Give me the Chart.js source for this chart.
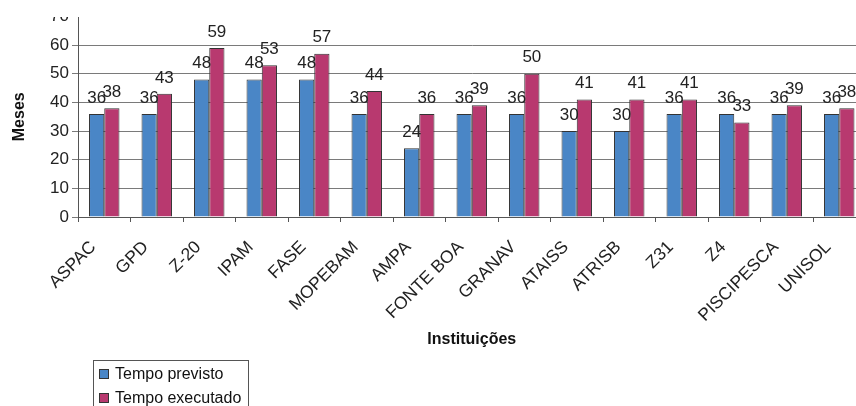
<!DOCTYPE html>
<html lang="pt">
<head>
<meta charset="UTF-8">
<title>Tempo previsto e executado por instituição</title>
<script src="https://cdn.jsdelivr.net/npm/chart.js"></script>
<style>
  html, body { margin: 0; padding: 0; background: #fff; overflow: hidden; }
  /* o gráfico original está cortado no topo (rótulo 70) e à direita */
  #wrap { position: absolute; left: 0; top: 17px; width: 856px; height: 389px; overflow: hidden; }
  #grafico { position: absolute; left: 0; top: -17px; }
</style>
</head>
<body>
<div id="wrap"><canvas id="grafico" width="880" height="406"></canvas></div>
<script>
const instituicoes = ['ASPAC', 'GPD', 'Z-20', 'IPAM', 'FASE', 'MOPEBAM', 'AMPA', 'FONTE BOA',
                      'GRANAV', 'ATAISS', 'ATRISB', 'Z31', 'Z4', 'PISCIPESCA', 'UNISOL'];
const tempoPrevisto  = [36, 36, 48, 48, 48, 36, 24, 36, 36, 30, 30, 36, 36, 36, 36];
const tempoExecutado = [38, 43, 59, 53, 57, 44, 36, 39, 50, 41, 41, 41, 33, 39, 38];
const yMin = 0, yMax = 70, yPasso = 10;

const fonte = 'Arial, "Liberation Sans", sans-serif';

// valores em cima das barras
const rotulosBarras = {
    id: 'rotulosBarras',
    afterDatasetsDraw(chart) {
        const ctx = chart.ctx;
        ctx.save();
        ctx.font = '17px ' + fonte;
        ctx.fillStyle = '#222';
        ctx.textAlign = 'center';
        ctx.textBaseline = 'middle';
        chart.data.datasets.forEach((ds, i) => {
            chart.getDatasetMeta(i).data.forEach((bar, j) => {
                ctx.fillText(ds.data[j], bar.x, bar.y - 16);
            });
        });
        ctx.restore();
    }
};

// legenda em caixa, vertical, embaixo à esquerda
const legendaCaixa = {
    id: 'legendaCaixa',
    afterDraw(chart) {
        const ctx = chart.ctx;
        ctx.save();
        ctx.strokeStyle = '#555';
        ctx.lineWidth = 1;
        ctx.strokeRect(93.5, 360.5, 155, 60);
        ctx.font = '16px ' + fonte;
        ctx.textBaseline = 'middle';
        chart.data.datasets.forEach((ds, i) => {
            const y = 374 + i * 24;
            ctx.fillStyle = ds.backgroundColor;
            ctx.fillRect(99.5, y - 4.5, 9, 9);
            ctx.strokeStyle = '#333';
            ctx.strokeRect(99.5, y - 4.5, 9, 9);
            ctx.fillStyle = '#111';
            ctx.fillText(ds.label, 115, y + 1);
        });
        ctx.restore();
    }
};

new Chart(document.getElementById('grafico'), {
    type: 'bar',
    data: {
        labels: instituicoes,
        datasets: [
            {
                label: 'Tempo previsto',
                data: tempoPrevisto,
                backgroundColor: '#4a86c6',
                borderColor: '#333',
                borderWidth: 1
            },
            {
                label: 'Tempo executado',
                data: tempoExecutado,
                backgroundColor: '#b8396f',
                borderColor: '#333',
                borderWidth: 1
            }
        ]
    },
    options: {
        responsive: false,
        animation: false,
        categoryPercentage: 0.58,
        barPercentage: 1.0,
        layout: { padding: { top: 16.5, right: 14.5, left: 0, bottom: 0 } },
        plugins: {
            legend: { display: false },
            tooltip: { enabled: false }
        },
        scales: {
            y: {
                min: yMin,
                max: yMax,
                ticks: {
                    stepSize: yPasso,
                    color: '#222',
                    font: { family: fonte, size: 17 },
                    padding: 3
                },
                grid: {
                    color: c => c.tick && c.tick.value === yMax ? '#dcdcdc' : '#7a7a7a',
                    tickLength: 6
                },
                border: { color: '#555' },
                title: {
                    display: true,
                    text: 'Meses',
                    color: '#111',
                    font: { family: fonte, size: 16, weight: 'bold' },
                    padding: { top: 10, bottom: 0 }
                },
                afterFit(s) { s.width = 78; }
            },
            x: {
                grid: {
                    drawOnChartArea: false,
                    offset: true,
                    tickLength: 5,
                    color: '#555'
                },
                border: { color: '#555' },
                ticks: {
                    autoSkip: false,
                    minRotation: 45,
                    maxRotation: 45,
                    labelOffset: -11,
                    padding: 15,
                    color: '#222',
                    font: { family: fonte, size: 17.5 }
                },
                title: {
                    display: true,
                    text: 'Instituições',
                    color: '#111',
                    font: { family: fonte, size: 16, weight: 'bold' },
                    padding: { top: 0, bottom: 57 }
                },
                afterFit(s) { s.height = 189; }
            }
        }
    },
    plugins: [rotulosBarras, legendaCaixa]
});
</script>
</body>
</html>
